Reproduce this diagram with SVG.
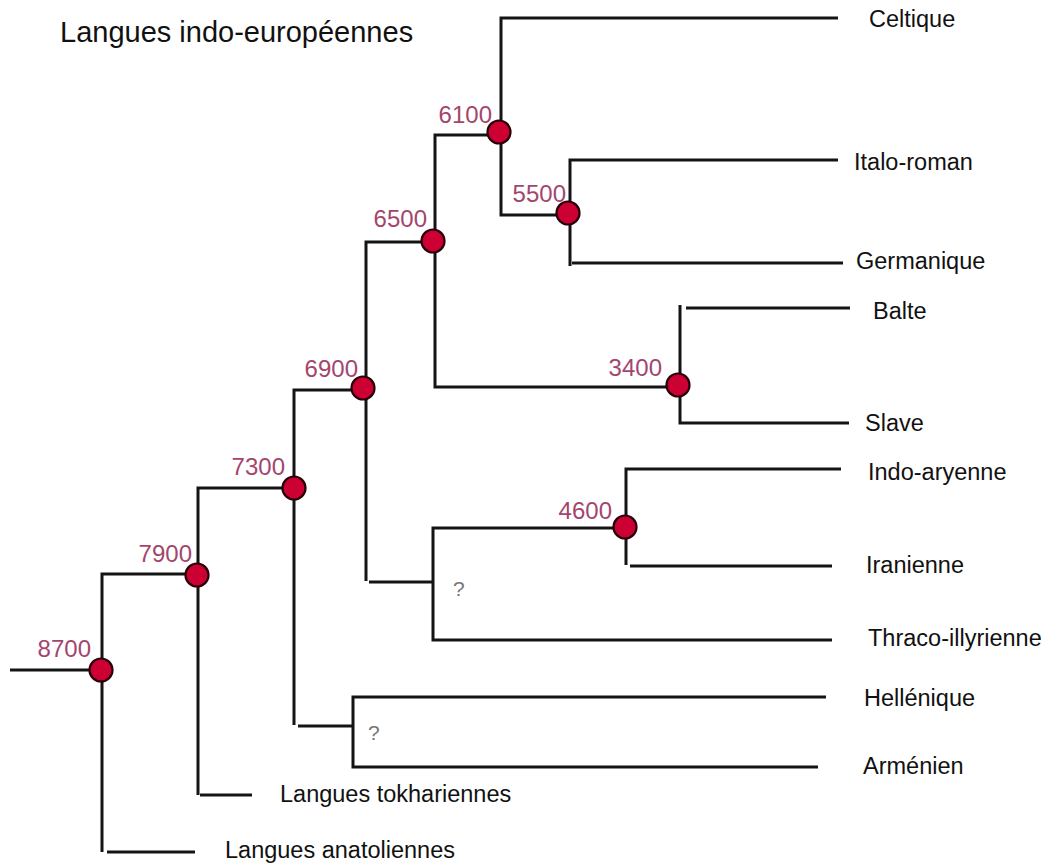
<svg xmlns="http://www.w3.org/2000/svg" width="1041" height="863" viewBox="0 0 1041 863">
<style>
.ln{fill:none;stroke:#141414;stroke-width:3;stroke-linecap:butt}
.nd{fill:#cc0033;stroke:#2a0008;stroke-width:2.2}
.num{font-family:"Liberation Sans",Arial,sans-serif;font-size:24px;fill:#a3466e;text-anchor:end}
.lab{font-family:"Liberation Sans",Arial,sans-serif;font-size:23.5px;fill:#111}
.q{font-family:"Liberation Sans",Arial,sans-serif;font-size:21px;fill:#777}
</style>
<rect width="1041" height="863" fill="#fff"/>
<text class="lab" x="60" y="42" style="font-size:29px">Langues indo-européennes</text>
<g id="connectors">
<path class="ln" d="M10 670H101"/>
<path class="ln" d="M198 574H102V852"/>
<path class="ln" d="M107 852H195"/>
<path class="ln" d="M294 488H198V795"/>
<path class="ln" d="M200 795H252"/>
<path class="ln" d="M363 390H294V725"/>
<path class="ln" d="M298 726H353"/>
<path class="ln" d="M826 697H353V767H818"/>
<path class="ln" d="M433 242H366V581"/>
<path class="ln" d="M369 582H432"/>
<path class="ln" d="M625 528H433V640H832"/>
<path class="ln" d="M841 469H626V565"/>
<path class="ln" d="M630 566H832"/>
<path class="ln" d="M499 135H435V387H678"/>
<path class="ln" d="M680 305V423H849"/>
<path class="ln" d="M686 308H850"/>
<path class="ln" d="M838 18H501V215H568"/>
<path class="ln" d="M838 160H570V266"/>
<path class="ln" d="M572 263H843"/>
</g>
<g id="n8700"><circle class="nd" cx="101" cy="670" r="11.5"/><text class="num" x="91" y="657">8700</text></g>
<g id="n7900"><circle class="nd" cx="197" cy="575" r="11.5"/><text class="num" x="192" y="562">7900</text></g>
<g id="n7300"><circle class="nd" cx="294" cy="488" r="11.5"/><text class="num" x="285" y="475">7300</text></g>
<g id="n6900"><circle class="nd" cx="363" cy="388" r="11.5"/><text class="num" x="358" y="377">6900</text></g>
<g id="n6500"><circle class="nd" cx="433" cy="241" r="11.5"/><text class="num" x="427" y="227">6500</text></g>
<g id="n6100"><circle class="nd" cx="499" cy="132" r="11.5"/><text class="num" x="492" y="123">6100</text></g>
<g id="n5500"><circle class="nd" cx="568" cy="213" r="11.5"/><text class="num" x="566" y="202">5500</text></g>
<g id="n3400"><circle class="nd" cx="678" cy="385" r="11.5"/><text class="num" x="662" y="376">3400</text></g>
<g id="n4600"><circle class="nd" cx="625" cy="527" r="11.5"/><text class="num" x="612" y="519">4600</text></g>
<g id="q1"><text class="q" x="453" y="596">?</text></g>
<g id="q2"><text class="q" x="368" y="740">?</text></g>
<g id="l-celtique"><text class="lab" x="869" y="27">Celtique</text></g>
<g id="l-italo"><text class="lab" x="854" y="170">Italo-roman</text></g>
<g id="l-germanique"><text class="lab" x="856" y="269">Germanique</text></g>
<g id="l-balte"><text class="lab" x="873" y="319">Balte</text></g>
<g id="l-slave"><text class="lab" x="865" y="431">Slave</text></g>
<g id="l-indo"><text class="lab" x="868" y="480">Indo-aryenne</text></g>
<g id="l-iran"><text class="lab" x="866" y="573">Iranienne</text></g>
<g id="l-thraco"><text class="lab" x="868" y="646">Thraco-illyrienne</text></g>
<g id="l-hell"><text class="lab" x="864" y="706">Hellénique</text></g>
<g id="l-armen"><text class="lab" x="863" y="774">Arménien</text></g>
<g id="l-tokh"><text class="lab" x="280" y="802">Langues tokhariennes</text></g>
<g id="l-anat"><text class="lab" x="225" y="858">Langues anatoliennes</text></g>
</svg>
